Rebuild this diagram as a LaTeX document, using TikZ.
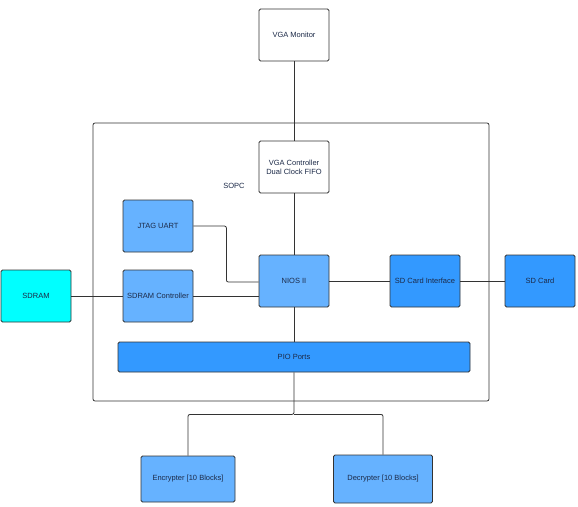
\documentclass[tikz,border=0pt]{standalone}
\usepackage{fontspec}
\setmainfont{Liberation Sans}
\usetikzlibrary{positioning}
\definecolor{lightblock}{HTML}{66B2FF}
\definecolor{darkblock}{HTML}{3399FF}
\definecolor{cyanblock}{HTML}{00FFFF}
\definecolor{labeltext}{HTML}{1C2A48}
\definecolor{wire}{HTML}{333333}
\begin{document}
\begin{tikzpicture}[x=1pt,y=-1pt,line width=0.8pt,draw=wire,
        font=\fontsize{7.5}{9}\selectfont,text=labeltext,
        main node/.style={rectangle,draw=wire,rounded corners=1.5pt,minimum width=70pt,minimum height=52pt,inner sep=1pt,align=center},
        white node/.style={main node,fill=white},
        light node/.style={main node,fill=lightblock},
        dark node/.style={main node,fill=darkblock}]

    \useasboundingbox (0,0) rectangle (578,506);

    % SOPC frame
    \draw[rounded corners=2pt] (93,123) rectangle (489,401);
    \node (sopc) at (234,186) {SOPC};

    \node[white node] (monitor) at (294,35) {VGA Monitor};
    \node[white node] (vgactl) at (294,167) {VGA Controller\\Dual Clock FIFO};
    \node[light node] (jtag) at (158,226) {JTAG UART};
    \node[light node] (sdramctl) at (158,296) {SDRAM Controller};
    \node[main node,fill=cyanblock] (sdram) at (36,296) {SDRAM};
    \node[light node] (nios) at (294,281) {NIOS II};
    \node[dark node] (sdif) at (425,281) {SD Card Interface};
    \node[dark node] (sdcard) at (540,281) {SD Card};
    \node[dark node,minimum width=352pt,minimum height=30pt] (pio) at (294,357) {PIO Ports};
    \node[light node,minimum width=94pt,minimum height=46pt] (enc) at (188,479) {Encrypter [10 Blocks]};
    \node[light node,minimum width=99pt,minimum height=48pt] (dec) at (383,479) {Decrypter [10 Blocks]};

    \path
    (monitor) edge (vgactl)
    (vgactl) edge (nios)
    (sdram) edge (sdramctl)
    (nios) edge (sdif)
    (sdif) edge (sdcard)
    (nios) edge (pio);

    \draw[rounded corners=2pt] (jtag.east) -- ++(33,0) |- ([yshift=-1pt]nios.west);
    \draw (sdramctl.east) -- (sdramctl.east -| nios.west);
    \draw[rounded corners=2pt] (pio.south) -- ++(0,42) coordinate (split) -| (enc.north);
    \draw[rounded corners=2pt] (split) -| (dec.north);
\end{tikzpicture}
\end{document}
